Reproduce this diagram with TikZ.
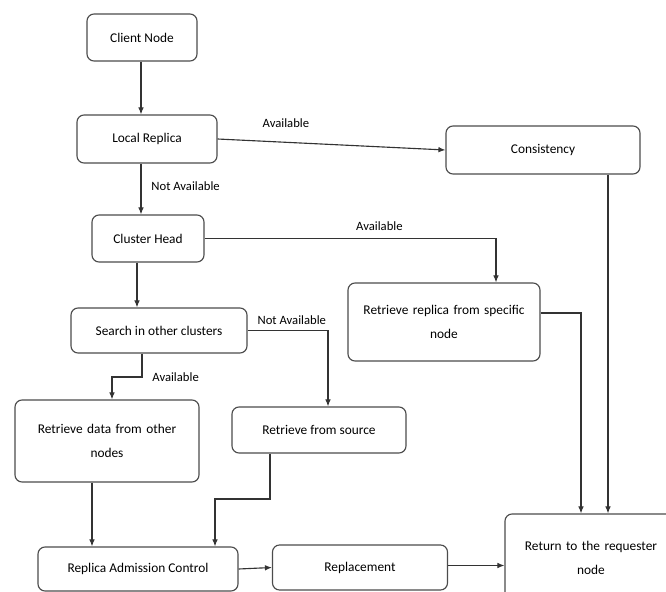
\documentclass[tikz,border=0pt]{standalone}
\usepackage{fontspec}
\setmainfont{Carlito}
\usetikzlibrary{positioning}
\usetikzlibrary{calc}
\usetikzlibrary{arrows.meta}

\begin{document}
\begin{tikzpicture}[x=0.025cm, y=-0.025cm,
		box/.style={rectangle, rounded corners=5pt, draw=black!70, line width=0.8pt, fill=white, align=center, font=\fontsize{9.5}{17}\selectfont, inner sep=2pt},
		flow/.style={-{Latex[length=5pt,width=4pt]}, line width=0.8pt, draw=black!80},
		lbl/.style={font=\fontsize{9}{11}\selectfont, inner sep=1pt}]
		\useasboundingbox (0,0) rectangle (666,592);
		\clip (0,0) rectangle (666,592);
		\node[box, minimum width=110*0.025cm, minimum height=47*0.025cm](client)   at (142,37.5){Client Node};
		\node[box, minimum width=140*0.025cm, minimum height=48*0.025cm](local)    at (147,139) {Local Replica};
		\node[box, minimum width=194*0.025cm, minimum height=48*0.025cm](consist)  at (543,150) {Consistency};
		\node[box, minimum width=112*0.025cm, minimum height=47*0.025cm](cluster)  at (148,238.5){Cluster Head};
		\node[box, minimum width=192*0.025cm, minimum height=78*0.025cm, text width=170*0.025cm](specific) at (444,322){Retrieve replica from specific\\node};
		\node[box, minimum width=176*0.025cm, minimum height=45*0.025cm](search)   at (159,330.5){Search in other clusters};
		\node[box, minimum width=174*0.025cm, minimum height=46*0.025cm](source)   at (319,430) {Retrieve from source};
		\node[box, minimum width=184*0.025cm, minimum height=82*0.025cm, text width=170*0.025cm](other) at (107,441){Retrieve data from other\\nodes};
		\node[box, minimum width=200*0.025cm, minimum height=44*0.025cm](rac)      at (138,569) {Replica Admission Control};
		\node[box, minimum width=175*0.025cm, minimum height=45*0.025cm](repl)     at (360,567.5){Replacement};
		\node[box, minimum width=172*0.025cm, minimum height=88*0.025cm, text width=160*0.025cm](ret) at (591,558){Return to the requester\\node};
		\coordinate (replout) at ($(repl.east)+(0,-2)$);
		% top branch
		\draw[flow] (client.south -| 141,0) -- (local.north -| 141,0);
		\draw[flow] (local.east) -- node[lbl, pos=0.3, above=9pt]{Available} (consist.west);
		\draw[flow] (local.south -| 141,0) -- node[lbl, right=6pt, pos=0.45]{Not Available} (cluster.north -| 141,0);
		\draw[flow] (cluster.east) -- node[lbl, pos=0.6, above=4pt]{Available} (cluster.east -| 496,0) -- (specific.north -| 496,0);
		\draw[flow] (cluster.south -| 137,0) -- (search.north -| 137,0);
		% right side
		\draw[flow] (consist.south -| 608,0) -- (ret.north -| 608,0);
		\draw[flow] ($(specific.east)+(0,-9)$) -| (ret.north -| 581,0);
		% search results
		\draw[flow] (search.east) -- node[lbl, pos=0.55, above=3pt]{Not Available} (search.east -| 328,0) -- (source.north -| 328,0);
		\draw[flow] (search.south -| 142,0) -- (142,377) node[lbl, right=6pt]{Available} -- (112,377) -- (other.north -| 112,0);
		% lower row
		\draw[flow] (other.south -| 92,0) -- (rac.north -| 92,0);
		\draw[flow] (source.south -| 270,0) -- (270,499) -- (215,499) -- (rac.north -| 215,0);
		\draw[flow] (rac.east) -- (repl.west);
		\draw[flow] (replout) -- (replout -| ret.west);
	\end{tikzpicture}
\end{document}
